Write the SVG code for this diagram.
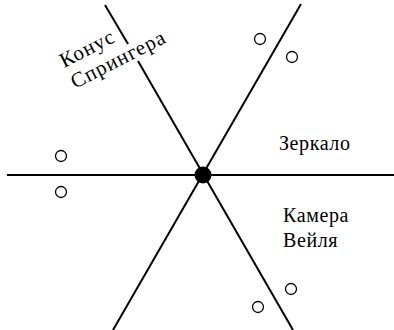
<svg xmlns="http://www.w3.org/2000/svg" width="394" height="330" viewBox="0 0 394 330">
<style>
.ln{stroke:#000;stroke-width:2;fill:none}
.pt{stroke:#000;stroke-width:1.3;fill:#fff}
.t{font-family:"Liberation Serif","Times New Roman",serif;font-size:20px;fill:#000;letter-spacing:0.6px}
.r{font-size:21px;letter-spacing:0.9px}
</style>
<rect width="394" height="330" fill="#fff"/>
<g id="connectors">
<line class="ln" x1="7" y1="175" x2="394" y2="175"/>
<line class="ln" x1="105" y1="5" x2="128" y2="44"/>
<line class="ln" x1="138" y1="61" x2="293" y2="330"/>
<line class="ln" x1="301" y1="4" x2="113" y2="330"/>
</g>
<g id="center"><circle cx="203" cy="175" r="8.5" fill="#000"/></g>
<g id="particles">
<circle class="pt" cx="260" cy="39" r="5.5"/>
<circle class="pt" cx="292" cy="57" r="5.5"/>
<circle class="pt" cx="61" cy="156" r="5.5"/>
<circle class="pt" cx="61" cy="192" r="5.5"/>
<circle class="pt" cx="291" cy="289" r="5.5"/>
<circle class="pt" cx="258" cy="307" r="5.5"/>
</g>
<g id="label-cone">
<text class="t r" transform="translate(64,68) rotate(-27)">Конус</text>
<text class="t r" transform="translate(75,89) rotate(-27)">Спрингера</text>
</g>
<g id="label-mirror"><text class="t" x="279" y="150">Зеркало</text></g>
<g id="label-camera">
<text class="t" x="283" y="222">Камера</text>
<text class="t" x="283" y="247">Вейля</text>
</g>
</svg>
